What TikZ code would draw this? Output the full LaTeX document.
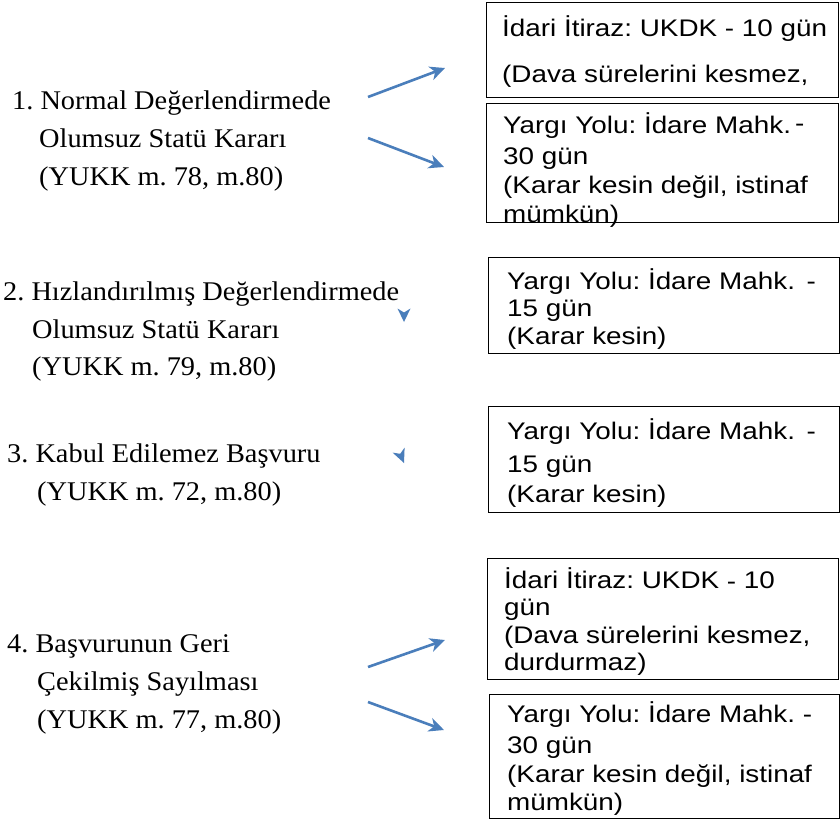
\documentclass[tikz,border=0pt]{standalone}
\usepackage{fontspec}
\setmainfont{Liberation Serif}
\newfontfamily\timesw[FakeStretch=1.05]{Liberation Serif}
\newfontfamily\arialw[FakeStretch=1.16]{Liberation Sans}
\usetikzlibrary{arrows.meta}
\definecolor{arrowblue}{HTML}{4A7EBB}
\frenchspacing
\tikzset{
  lefttext/.style={anchor=base west, inner sep=0pt, font=\frenchspacing\timesw\fontsize{27}{31}\selectfont},
  boxtext/.style={anchor=base west, inner sep=0pt, font=\frenchspacing\arialw\fontsize{24}{28}\selectfont},
  outbox/.style={draw=black, line width=1.3pt, anchor=north west, inner sep=0pt},
  flow/.style={draw=arrowblue, line width=2.6pt, -{Stealth[length=15pt,width=14pt,inset=4.5pt]}},
  lonetip/.style={fill=arrowblue},
}
\begin{document}
\begin{tikzpicture}[x=1pt,y=-1pt]
\useasboundingbox (0,0) rectangle (840,820);
\fill[white] (0,0) rectangle (840,820);

% boxes
\node[outbox, minimum width=352pt, minimum height=95pt]  (b1) at (486,2)   {};
\node[outbox, minimum width=352pt, minimum height=119pt] (b2) at (486,103) {};
\node[outbox, minimum width=351pt, minimum height=96pt]  (b3) at (488,257) {};
\node[outbox, minimum width=351pt, minimum height=106pt] (b4) at (488,406) {};
\node[outbox, minimum width=351pt, minimum height=121pt] (b5) at (487,558) {};
\node[outbox, minimum width=350pt, minimum height=124pt] (b6) at (489,694) {};

% box texts
\node[boxtext] (b1a) at (502,36) {İdari İtiraz: UKDK - 10 gün};
\node[boxtext] (b1b) at (502,82) {(Dava sürelerini kesmez,};

\node[boxtext] (b2a) at (503,133) {Yargı Yolu: İdare Mahk.\,\raisebox{2pt}{-}};
\node[boxtext] (b2b) at (503,164) {30 gün};
\node[boxtext] (b2c) at (503,193) {(Karar kesin değil, istinaf};
\node[boxtext] (b2d) at (503,222) {mümkün)};

\node[boxtext] (b3a) at (507,289) {Yargı Yolu: İdare Mahk.~\,-};
\node[boxtext] (b3b) at (507,316) {15 gün};
\node[boxtext] (b3c) at (507,344) {(Karar kesin)};

\node[boxtext] (b4a) at (507,439) {Yargı Yolu: İdare Mahk.~\,-};
\node[boxtext] (b4b) at (507,472) {15 gün};
\node[boxtext] (b4c) at (507,502) {(Karar kesin)};

\node[boxtext] (b5a) at (504,588) {İdari İtiraz: UKDK \raisebox{-1pt}{-} 10};
\node[boxtext] (b5b) at (504,615) {gün};
\node[boxtext] (b5c) at (504,643) {(Dava sürelerini kesmez,};
\node[boxtext] (b5d) at (504,670) {durdurmaz)};

\node[boxtext] (b6a) at (507,722) {Yargı Yolu: İdare Mahk.~-};
\node[boxtext] (b6b) at (507,753) {30 gün};
\node[boxtext] (b6c) at (507,782) {(Karar kesin değil, istinaf};
\node[boxtext] (b6d) at (507,810) {mümkün)};

% left texts
\node[lefttext] (l1a) at (12,109) {1. Normal Değerlendirmede};
\node[lefttext] (l1b) at (39,147) {Olumsuz Statü Kararı};
\node[lefttext] (l1c) at (39,185) {(YUKK m. 78, m.80)};

\node[lefttext] (l2a) at (3,300) {2. Hızlandırılmış Değerlendirmede};
\node[lefttext] (l2b) at (32,338) {Olumsuz Statü Kararı};
\node[lefttext] (l2c) at (32,375) {(YUKK m. 79, m.80)};

\node[lefttext] (l3a) at (7,462) {3. Kabul Edilemez Başvuru};
\node[lefttext] (l3b) at (37,500) {(YUKK m. 72, m.80)};

\node[lefttext] (l4a) at (7,652) {4. Başvurunun Geri};
\node[lefttext] (l4b) at (37,690) {Çekilmiş Sayılması};
\node[lefttext] (l4c) at (37,728) {(YUKK m. 77, m.80)};

% arrow end points
\coordinate (a1s) at (368,97);  \coordinate (a1e) at (445,68);
\coordinate (a2s) at (368,138); \coordinate (a2e) at (444,167);
\coordinate (a3s) at (368,667); \coordinate (a3e) at (445,640);
\coordinate (a4s) at (368,702); \coordinate (a4e) at (444,730);

\draw[flow] (a1s) -- (a1e);
\draw[flow] (a2s) -- (a2e);
\draw[flow] (a3s) -- (a3e);
\draw[flow] (a4s) -- (a4e);

% isolated arrow tips
\fill[lonetip] (404,322) -- (397.5,308.5) -- (404,312.5) -- (410.5,308.5) -- cycle;
\fill[lonetip] (404,463) -- (392.6,452.6) -- (400.2,453.8) -- (404.6,447.6) -- cycle;
\end{tikzpicture}
\end{document}
